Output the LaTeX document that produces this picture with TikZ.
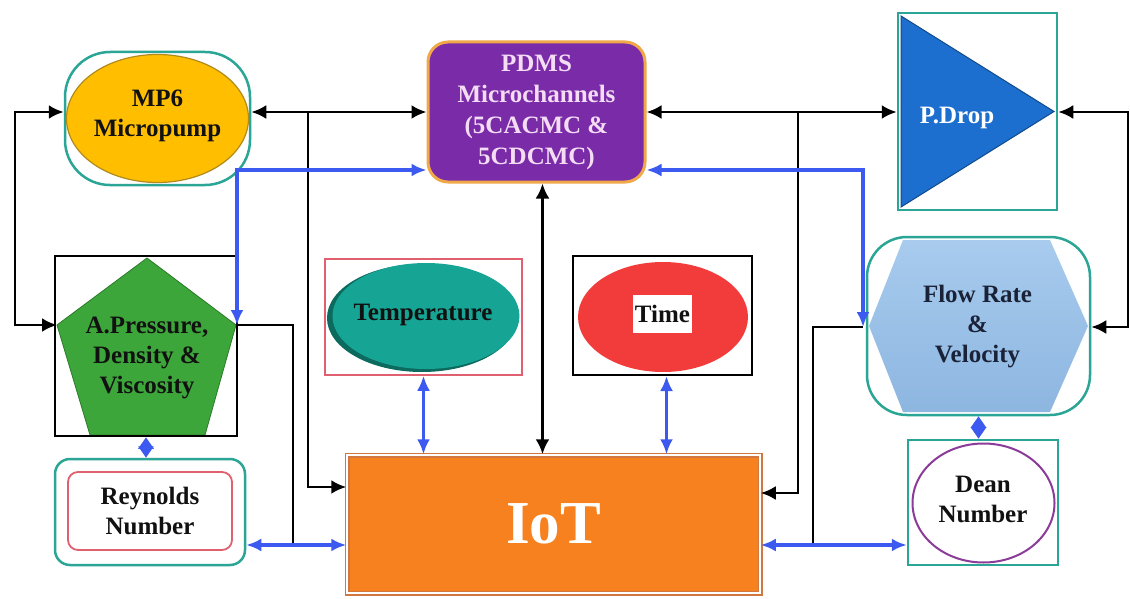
\documentclass[tikz,border=0pt]{standalone}
\usepackage{fontspec}
\setmainfont{Liberation Serif}
\usetikzlibrary{arrows.meta,shapes.geometric,calc}
\definecolor{teal1}{HTML}{2BA595}
\definecolor{mp6yellow}{HTML}{FFBF00}
\definecolor{mp6border}{HTML}{B08A1A}
\definecolor{pdmspurple}{HTML}{7A2CA8}
\definecolor{pdmsorange}{HTML}{F0A848}
\definecolor{pdmstext}{HTML}{F4DDF4}
\definecolor{pdropblue}{HTML}{1C6FCF}
\definecolor{pdropdark}{HTML}{114A8A}
\definecolor{pentgreen}{HTML}{3DA63A}
\definecolor{pentdark}{HTML}{2A7A28}
\definecolor{redline}{HTML}{E06070}
\definecolor{iotorange}{HTML}{F7811F}
\definecolor{iotborder}{HTML}{D07840}
\definecolor{tempteal}{HTML}{16A594}
\definecolor{tempdark}{HTML}{0C6A5E}
\definecolor{timered}{HTML}{F23C3C}
\definecolor{flowtop}{HTML}{A8CBEE}
\definecolor{flowbot}{HTML}{8DB6E0}
\definecolor{deanpurple}{HTML}{8A3C98}
\definecolor{blueline}{HTML}{3C5AF0}
\definecolor{darktext}{HTML}{111111}
\definecolor{navytext}{HTML}{1A2238}
\tikzset{
  lbl/.style={font=\fontsize{25}{30}\selectfont\bfseries, align=center, inner sep=0pt, text=darktext},
  frameT/.style={draw=teal1, line width=2.5pt, inner sep=0pt},
  blk/.style={line width=2.8pt, draw=black, >={Latex[length=15pt,width=14pt]}},
  blu/.style={line width=3.2pt, draw=blueline, >={Latex[length=15pt,width=13pt]}},
  dia/.style={line width=3.2pt, draw=blueline, {Triangle[length=11.5pt,width=15pt]}-{Triangle[length=11.5pt,width=15pt]}},
  ell/.style={ellipse, inner sep=0pt}
}
\begin{document}
\begin{tikzpicture}[x=1pt,y=-1pt]
\useasboundingbox[fill=white] (0,0) rectangle (1130,599);

% MP6
\node[frameT, rounded corners=45pt, minimum width=185pt, minimum height=133pt] (mp6f) at (157.5,118.5) {};
\node[ell, fill=mp6yellow, draw=mp6border, line width=1.2pt, minimum width=182pt, minimum height=128pt] (mp6) at (157.5,118.5) {};
\node[lbl] (mp6t) at (157.5,116) {MP6\\Micropump};

% PDMS
\node[lbl, rounded corners=20pt, fill=pdmspurple, draw=pdmsorange, line width=3pt, minimum width=217pt, minimum height=140pt, text=pdmstext, font=\fontsize{25}{31}\selectfont\bfseries] (pdms) at (536.5,112) {PDMS\\Microchannels\\(5CACMC \&\\5CDCMC)};

% P.Drop
\fill[pdropblue, draw=pdropdark, line width=1pt] (901,16) -- (901,207) -- (1054,111.5) -- cycle;
\node[frameT, minimum width=159pt, minimum height=197pt] (pdf) at (977.5,111.5) {};
\node[lbl, text=white] (pdt) at (957,118) {P.Drop};

% Pentagon
\fill[pentgreen, draw=pentdark, line width=0.8pt] (147,258) -- (236,325) -- (205,435) -- (90,435) -- (57,325) -- cycle;
\node[draw=black, line width=2.5pt, inner sep=0pt, minimum width=182pt, minimum height=180pt] (pentf) at (146,346) {};
\node[lbl] (pentt) at (147,358) {A.Pressure,\\Density \&\\Viscosity};

% Reynolds
\node[frameT, rounded corners=15pt, minimum width=190pt, minimum height=106pt] (reyn) at (150,512) {};
\node[lbl, draw=redline, line width=1.8pt, rounded corners=10pt, minimum width=164pt, minimum height=78pt] (reynt) at (150,511) {Reynolds\\Number};

% IoT
\node[fill=iotorange, draw=iotborder, double=white, double distance=2pt, line width=1.5pt, inner sep=0pt, minimum width=413pt, minimum height=138pt, text=white, font=\fontsize{61}{70}\selectfont\bfseries] (iot) at (553.5,524) {IoT};

% Temperature
\node[draw=redline, line width=1.5pt, inner sep=0pt, minimum width=197pt, minimum height=116pt] (tempf) at (423.5,317) {};
\node[ell, fill=tempdark, minimum width=190pt, minimum height=108pt] (temps) at (422,318) {};
\node[ell, fill=tempteal, minimum width=187pt, minimum height=106pt] (tempe) at (426,316) {};
\node[lbl] (tempt) at (423,315) {Temperature};

% Time
\node[draw=black, line width=2pt, inner sep=0pt, minimum width=179pt, minimum height=119pt] (timef) at (662.5,315.5) {};
\node[ell, fill=timered, minimum width=170pt, minimum height=110pt] (timee) at (663,317) {};
\node[lbl, fill=white, minimum width=59pt, minimum height=38pt] (timet) at (662.5,314) {Time};

% Flow rate
\shade[top color=flowtop, bottom color=flowbot] (903,240) -- (1050,240) -- (1088,326) -- (1050,412) -- (903,412) -- (869,326) -- cycle;
\node[frameT, rounded corners=40pt, minimum width=223pt, minimum height=178pt] (flowf) at (978.5,326) {};
\node[lbl, text=navytext] (flowt) at (977.5,327) {Flow Rate\\\&\\Velocity};

% Dean
\node[frameT, minimum width=150pt, minimum height=125pt] (deanf) at (983,502.5) {};
\node[ell, draw=deanpurple, line width=2pt, fill=white, minimum width=142pt, minimum height=119pt] (deane) at (983.5,503) {};
\node[lbl] (deant) at (983,499) {Dean\\Number};

% coordinates
\coordinate (L1) at (15,112);
\coordinate (L2) at (15,325);
\coordinate (pl) at (57,325);
\coordinate (pr) at (237,325);
\coordinate (B1) at (308,112);
\coordinate (B2) at (308,487);
\coordinate (C1) at (237,170);
\coordinate (D1) at (293,325);
\coordinate (D2) at (293,545);
\coordinate (ps) at ([xshift=6pt]pdms.south);
\coordinate (ts) at ([xshift=4pt]timef.south);
\coordinate (E1) at (798,112);
\coordinate (E2) at (798,493);
\coordinate (F1) at (863,170);
\coordinate (fl) at (863,327);
\coordinate (G1) at (813,327);
\coordinate (G2) at (813,545);
\coordinate (R1) at (1128,112);
\coordinate (R2) at (1128,327);

% connectors
\draw[blk,<->] (mp6f.west |- pdms.west) -- (L1) -- (L2) -- (pl);
\draw[blk,<->] (mp6f.east |- pdms.west) -- (pdms.west);
\draw[blk,->] (B1) -- (B2) -- (iot.west |- B2);
\draw[blu,<->] (pdms.west |- C1) -- (C1) -- (pr);
\draw[blk] (pr) -- (D1) -- (D2);
\draw[blu,<->] (reyn.east |- D2) -- (iot.west |- D2);
\draw[blk,<->] (ps) -- (ps |- iot.north);
\draw[blu,<->] (tempf.south) -- (tempf.south |- iot.north);
\draw[blu,<->] (ts) -- (ts |- iot.north);
\draw[blk,<->] (pdms.east) -- (pdms.east -| pdf.west);
\draw[blk,->] (E1) -- (E2) -- (iot.east |- E2);
\draw[blu,<->] (pdms.east |- F1) -- (F1) -- (fl);
\draw[blk] (fl) -- (G1) -- (G2);
\draw[blu,<->] (iot.east |- G2) -- (deanf.west |- G2);
\draw[blk,<->] (pdf.east |- R1) -- (R1) -- (R2) -- (flowf.east |- R2);
\draw[dia] (pentf.south) -- (pentf.south |- reyn.north);
\draw[dia] (flowf.south) -- (flowf.south |- deanf.north);
\end{tikzpicture}
\end{document}
